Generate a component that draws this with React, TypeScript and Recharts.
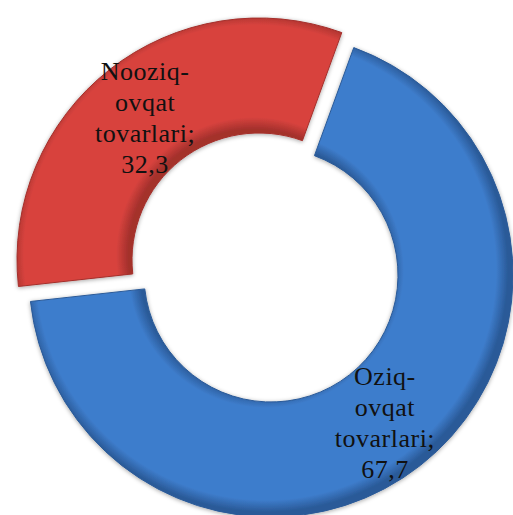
import React from 'react';
import { PieChart, Pie, Cell } from 'recharts';

const categories = ['Oziq-ovqat tovarlari', 'Nooziq-ovqat tovarlari'];
const shares = [67.7, 32.3];
const colors = ['#3E7DCC', '#D8433E'];
const edgeColors = ['#2A5A98', '#A4302C'];

const data = categories.map((name, i) => ({ name, value: shares[i] }));

const RADIAN = Math.PI / 180;

// each pie shows one slice; the red one is drawn from a shifted centre (exploded)
const pies = [
  { cx: 266, cy: 270, show: 0, grad: 'gradBlue' },
  { cx: 254, cy: 255, show: 1, grad: 'gradRed' },
];

const css = `
.slice-label {
  font-family: 'Liberation Serif', 'Times New Roman', serif !important;
  font-size: 26px !important;
  fill: #111 !important;
  letter-spacing: 0.5px;
}
`;

const makeLabel = (showIndex: number) => (props: any) => {
  const { cx, cy, midAngle, innerRadius, outerRadius, index } = props;
  if (index !== showIndex) return null;
  const r = (innerRadius + outerRadius) / 2;
  const x = cx + r * Math.cos(-midAngle * RADIAN);
  const y = cy + r * Math.sin(-midAngle * RADIAN);
  const words = categories[index].replace('-', '- ').split(' ');
  const lines = [
    ...words.slice(0, -1),
    words[words.length - 1] + ';',
    String(shares[index]).replace('.', ','),
  ];
  return (
    <g>
      {lines.map((l, i) => (
        <text key={i} className="slice-label" x={x} y={y - 35 + i * 31} textAnchor="middle">
          {l}
        </text>
      ))}
    </g>
  );
};

export default function App() {
  return (
    <div style={{ position: 'absolute', left: 0, top: 0, background: '#fff' }}>
      <style>{css}</style>
      <PieChart width={513} height={515}>
        <defs>
          {pies.map((p) => (
            <radialGradient
              key={p.grad}
              id={p.grad}
              gradientUnits="userSpaceOnUse"
              cx={p.cx}
              cy={p.cy}
              r={242}
            >
              <stop offset="0.52" stopColor={edgeColors[p.show]} />
              <stop offset="0.57" stopColor={colors[p.show]} />
              <stop offset="0.95" stopColor={colors[p.show]} />
              <stop offset="1" stopColor={edgeColors[p.show]} />
            </radialGradient>
          ))}
          <filter id="shadow" x="-10%" y="-10%" width="120%" height="120%">
            <feDropShadow dx="0" dy="1" stdDeviation="2" floodColor="#000" floodOpacity="0.35" />
          </filter>
        </defs>
        {pies.map((p) => (
          <Pie
            key={p.grad}
            data={data}
            dataKey="value"
            nameKey="name"
            cx={p.cx}
            cy={p.cy}
            innerRadius={127}
            outerRadius={242}
            startAngle={70}
            endAngle={-290}
            isAnimationActive={false}
            labelLine={false}
            label={makeLabel(p.show)}
          >
            {data.map((d, i) =>
              i === p.show ? (
                <Cell
                  key={d.name}
                  fill={`url(#${p.grad})`}
                  stroke={edgeColors[i]}
                  strokeWidth={1}
                  filter="url(#shadow)"
                />
              ) : (
                <Cell key={d.name} fill="none" stroke="none" />
              )
            )}
          </Pie>
        ))}
      </PieChart>
    </div>
  );
}
